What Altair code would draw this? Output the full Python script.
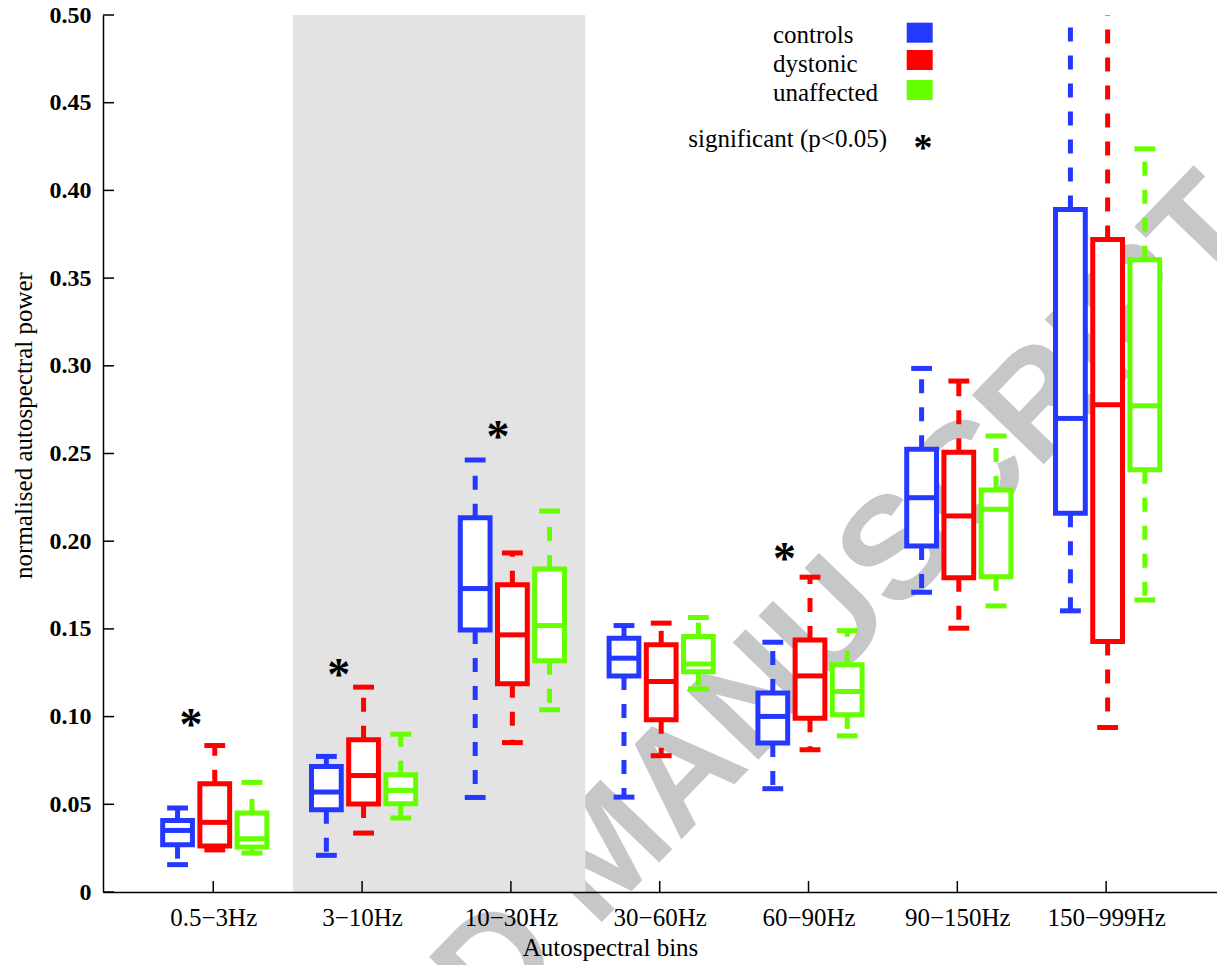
import altair as alt
import pandas as pd

# ---------------- data ----------------
bins = ["0.5−3Hz", "3−10Hz", "10−30Hz", "30−60Hz", "60−90Hz", "90−150Hz", "150−999Hz"]
groups = ["controls", "dystonic", "unaffected"]
colors = ["#2438ff", "#ff0000", "#66ff00"]
group_offset = [-0.24, 0.01, 0.26]

# lower whisker, q1, median, q3, upper whisker for each group across bins
controls_lo = [0.0156, 0.0209, 0.0539, 0.0541, 0.0589, 0.1709, 0.1603]
controls_q1 = [0.0270, 0.0469, 0.1494, 0.1232, 0.0849, 0.1973, 0.2159]
controls_md = [0.0351, 0.0570, 0.1730, 0.1333, 0.1001, 0.2248, 0.2700]
controls_q3 = [0.0408, 0.0716, 0.2134, 0.1447, 0.1134, 0.2524, 0.3891]
controls_hi = [0.0479, 0.0773, 0.2463, 0.1519, 0.1424, 0.2985, 0.5600]

dystonic_lo = [0.0240, 0.0336, 0.0852, 0.0777, 0.0811, 0.1504, 0.0938]
dystonic_q1 = [0.0262, 0.0501, 0.1187, 0.0982, 0.0991, 0.1792, 0.1428]
dystonic_md = [0.0397, 0.0664, 0.1466, 0.1200, 0.1232, 0.2144, 0.2778]
dystonic_q3 = [0.0617, 0.0868, 0.1751, 0.1409, 0.1437, 0.2507, 0.3720]
dystonic_hi = [0.0835, 0.1168, 0.1933, 0.1533, 0.1795, 0.2913, 0.5600]

unaffected_lo = [0.0222, 0.0422, 0.1039, 0.1157, 0.0890, 0.1631, 0.1665]
unaffected_q1 = [0.0256, 0.0503, 0.1318, 0.1255, 0.1010, 0.1798, 0.2408]
unaffected_md = [0.0304, 0.0579, 0.1519, 0.1300, 0.1143, 0.2182, 0.2772]
unaffected_q3 = [0.0450, 0.0668, 0.1842, 0.1456, 0.1295, 0.2292, 0.3604]
unaffected_hi = [0.0625, 0.0900, 0.2172, 0.1565, 0.1490, 0.2600, 0.4237]

# significance markers (x in bin units, y in power units)
star_x = [-0.15, 0.844, 1.913, 3.839]
star_y = [0.0987, 0.1272, 0.2630, 0.1933]

# shaded band (bin units)
shade_from, shade_to = 0.535, 2.5

y_ticks = [0, 0.05, 0.10, 0.15, 0.20, 0.25, 0.30, 0.35, 0.40, 0.45, 0.50]

# ---------------- table ----------------
stats = {
    "controls": (controls_lo, controls_q1, controls_md, controls_q3, controls_hi),
    "dystonic": (dystonic_lo, dystonic_q1, dystonic_md, dystonic_q3, dystonic_hi),
    "unaffected": (unaffected_lo, unaffected_q1, unaffected_md, unaffected_q3, unaffected_hi),
}
rows = []
for gi, g in enumerate(groups):
    lo, q1, md, q3, hi = stats[g]
    for bi, b in enumerate(bins):
        rows.append({"bin": b, "group": g, "x": bi + group_offset[gi],
                     "lo": lo[bi], "q1": q1[bi], "med": md[bi], "q3": q3[bi], "hi": hi[bi]})
df = pd.DataFrame(rows)

BOX_HALF = 0.1
CAP_HALF = 0.07
LW = 5

FONT = "Liberation Serif"
W, H = 1114, 877

label_arr = "[" + ",".join("'" + b + "'" for b in bins) + "]"
xscale = alt.Scale(domain=[-0.741, 6.745], nice=False, zero=False)
yscale = alt.Scale(domain=[0, 0.5], nice=False, zero=True)
xaxis = alt.Axis(values=list(range(len(bins))), labelExpr=label_arr + "[datum.value]",
                 ticks=False, tickSize=0, grid=False, domainColor="black", domainWidth=1.5,
                 labelFont=FONT, labelFontSize=25, labelColor="black", labelPadding=13,
                 title="Autospectral bins", titleFont=FONT, titleFontSize=25,
                 titleFontWeight="normal", titleColor="black", titleX=507, titleY=63,
                 titleBaseline="alphabetic", titleAlign="center", zindex=1)
yaxis = alt.Axis(values=y_ticks, labelExpr="datum.value == 0 ? '0' : format(datum.value, '.2f')",
                 ticks=False, tickSize=0, grid=False, domainColor="black", domainWidth=1.5,
                 labelFont=FONT, labelFontSize=24, labelFontWeight="bold", labelColor="black",
                 labelPadding=12, labelBaseline="middle",
                 title="normalised autospectral power", titleFont=FONT, titleFontSize=25,
                 titleFontWeight="normal", titleColor="black", titleAngle=270,
                 titleX=-72, titleY=410, titleBaseline="alphabetic", titleAlign="center",
                 zindex=1)

color = alt.Color("group:N", scale=alt.Scale(domain=groups, range=colors), legend=None)

one = alt.Data(values=[{"a": 1}])

# watermark (decorative)
watermark = alt.Chart(one).mark_text(
    text="ACCEPTED MANUSCRIPT", font="Liberation Sans", fontWeight="bold", fontSize=145,
    angle=314, color="#c6c7c8", align="center", baseline="middle"
).encode(x=alt.value(505), y=alt.value(837))

shade = alt.Chart(pd.DataFrame({"x0": [shade_from], "x1": [shade_to], "y0": [0.0], "y1": [0.5]})).mark_rect(
    color="#e3e3e3").encode(
    x=alt.X("x0:Q", scale=xscale, axis=xaxis), x2="x1:Q",
    y=alt.Y("y0:Q", scale=yscale, axis=yaxis), y2="y1:Q")

base = alt.Chart(df)

whisk_up = base.mark_rule(strokeWidth=LW, strokeDash=[14, 14], clip=True).encode(
    x=alt.X("x:Q", scale=xscale, axis=xaxis), y=alt.Y("q3:Q", scale=yscale, axis=yaxis),
    y2="hi:Q", color=color)
whisk_lo = base.mark_rule(strokeWidth=LW, strokeDash=[14, 14], clip=True).encode(
    x=alt.X("x:Q", scale=xscale, axis=xaxis), y=alt.Y("q1:Q", scale=yscale, axis=yaxis),
    y2="lo:Q", color=color)

caps = base.transform_calculate(
    cl=f"datum.x - {CAP_HALF}", cr=f"datum.x + {CAP_HALF}")
cap_hi = caps.mark_rule(strokeWidth=LW, clip=True).encode(
    x=alt.X("cl:Q", scale=xscale, axis=xaxis), x2="cr:Q",
    y=alt.Y("hi:Q", scale=yscale, axis=yaxis), color=color)
cap_lo = caps.mark_rule(strokeWidth=LW, clip=True).encode(
    x=alt.X("cl:Q", scale=xscale, axis=xaxis), x2="cr:Q",
    y=alt.Y("lo:Q", scale=yscale, axis=yaxis), color=color)

boxes_b = base.transform_calculate(
    bl=f"datum.x - {BOX_HALF}", br=f"datum.x + {BOX_HALF}")
boxes = boxes_b.mark_rect(fill="white", strokeWidth=LW, clip=True).encode(
    x=alt.X("bl:Q", scale=xscale, axis=xaxis), x2="br:Q",
    y=alt.Y("q1:Q", scale=yscale, axis=yaxis), y2="q3:Q",
    stroke=alt.Stroke("group:N", scale=alt.Scale(domain=groups, range=colors), legend=None))
medians = boxes_b.mark_rule(strokeWidth=LW, clip=True).encode(
    x=alt.X("bl:Q", scale=xscale, axis=xaxis), x2="br:Q",
    y=alt.Y("med:Q", scale=yscale, axis=yaxis), color=color)

# inward ticks
ytick_layer = alt.Chart(pd.DataFrame({"v": y_ticks})).mark_rule(color="black", strokeWidth=1.5).encode(
    y=alt.Y("v:Q", scale=yscale, axis=yaxis), x=alt.value(0), x2=alt.value(11))
xtick_layer = alt.Chart(pd.DataFrame({"i": list(range(len(bins)))})).mark_rule(color="black", strokeWidth=1.5).encode(
    x=alt.X("i:Q", scale=xscale, axis=xaxis), y=alt.value(H), y2=alt.value(H - 11))

STAR = 46
stars = alt.Chart(pd.DataFrame({"sx": star_x, "sy": star_y})).mark_text(
    text="*", font=FONT, fontWeight="bold", fontSize=STAR, baseline="alphabetic",
    align="center", dy=0.46 * STAR, color="black").encode(
    x=alt.X("sx:Q", scale=xscale, axis=xaxis), y=alt.Y("sy:Q", scale=yscale, axis=yaxis))

# legend (drawn manually, as in the original figure)
legend_layers = []
sq_y = [7.7, 35.0, 65.0]
txt_y = [27.7, 56.7, 86.0]
for g, c, sy, ty in zip(groups, colors, sq_y, txt_y):
    legend_layers.append(alt.Chart(one).mark_rect(color=c).encode(
        x=alt.value(803.7), x2=alt.value(829.7), y=alt.value(sy), y2=alt.value(sy + 20)))
    legend_layers.append(alt.Chart(one).mark_text(
        text=g, font=FONT, fontSize=25, align="left", baseline="alphabetic", color="black").encode(
        x=alt.value(670), y=alt.value(ty)))
legend_layers.append(alt.Chart(one).mark_text(
    text="significant (p<0.05)", font=FONT, fontSize=25, align="right", baseline="alphabetic",
    color="black").encode(x=alt.value(784), y=alt.value(131.7)))
legend_layers.append(alt.Chart(one).mark_text(
    text="*", font=FONT, fontWeight="bold", fontSize=38, align="center", baseline="alphabetic",
    color="black").encode(x=alt.value(820), y=alt.value(128 + 0.46 * 38)))

chart = alt.layer(
    watermark, shade, whisk_up, whisk_lo, cap_hi, cap_lo, boxes, medians,
    ytick_layer, xtick_layer, stars, *legend_layers
).properties(
    width=W, height=H,
    autosize=alt.AutoSizeParams(type="none"),
    padding={"left": 103, "top": 15, "right": 0, "bottom": 73},
    background="white",
).configure_view(stroke=None)

chart.save("out.html", embed_options={"renderer": "svg", "actions": False})
